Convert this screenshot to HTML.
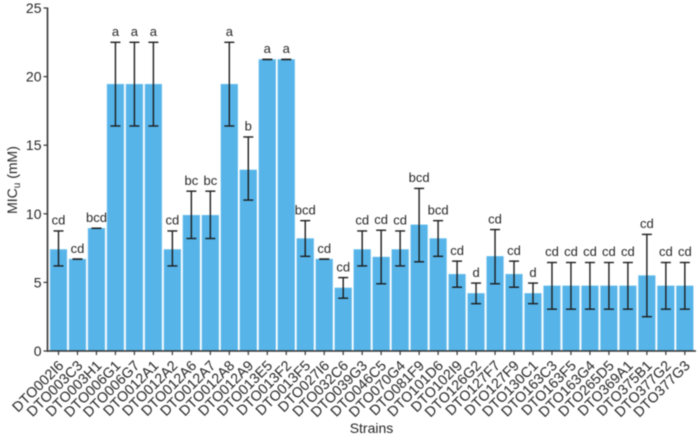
<!DOCTYPE html>
<html>
<head>
<meta charset="utf-8">
<style>
html,body{margin:0;padding:0;background:#fff;width:700px;height:437px;overflow:hidden}
svg{display:block;filter:blur(0.4px)}
text{font-family:"Liberation Sans",Arial,sans-serif;fill:#262626}
</style>
</head>
<body>
<svg id="chart" width="700" height="437" viewBox="0 0 700 437" xmlns="http://www.w3.org/2000/svg"></svg>
<script>
const categories = ["DTO002I6","DTO003C3","DTO003H1","DTO006G1","DTO006G7","DTO012A1","DTO012A2","DTO012A6","DTO012A7","DTO012A8","DTO012A9","DTO013E5","DTO013F2","DTO013F5","DTO027I6","DTO032C6","DTO039G3","DTO046C5","DTO070G4","DTO081F9","DTO101D6","DTO102I9","DTO126G2","DTO127F7","DTO127F9","DTO130C1","DTO163C3","DTO163F5","DTO163G4","DTO265D5","DTO369A1","DTO375B1","DTO377G2","DTO377G3"];
const meanValues = [7.4,6.7,8.95,19.45,19.45,19.45,7.4,9.9,9.9,19.45,13.2,21.25,21.25,8.2,6.7,4.6,7.4,6.85,7.4,9.2,8.2,5.6,4.2,6.9,5.6,4.2,4.75,4.75,4.75,4.75,4.75,5.5,4.75,4.75];
const errorLow = [6.2,6.7,8.95,16.4,16.4,16.4,6.2,8.2,8.2,16.4,11,21.25,21.25,6.9,6.7,3.85,6.2,4.9,6.2,6.5,6.9,4.65,3.45,4.9,4.65,3.45,3.05,3.05,3.05,3.05,3.05,2.5,3.05,3.05];
const errorHigh = [8.75,6.7,8.95,22.5,22.5,22.5,8.75,11.65,11.65,22.5,15.6,21.25,21.25,9.5,6.7,5.35,8.75,8.8,8.75,11.85,9.5,6.55,4.95,8.85,6.55,4.95,6.45,6.45,6.45,6.45,6.45,8.5,6.45,6.45];
const groupLetters = ["cd","cd","bcd","a","a","a","cd","bc","bc","a","b","a","a","bcd","cd","cd","cd","cd","cd","bcd","bcd","cd","d","cd","cd","d","cd","cd","cd","cd","cd","cd","cd","cd"];
const yTicks = [0,5,10,15,20,25];

const NS = "http://www.w3.org/2000/svg";
const svg = document.getElementById("chart");
const yScale = v => 351 - v * 13.72;
const xScale = i => 58.5 + i * 18.98;
function mk(tag, attrs, parent, txt){
  const e = document.createElementNS(NS, tag);
  for (const k in attrs) e.setAttribute(k, attrs[k]);
  if (txt !== undefined) e.textContent = txt;
  (parent || svg).appendChild(e);
  return e;
}

categories.forEach((c, i) => {
  const h = yScale(0) - yScale(meanValues[i]);
  const bar = mk("rect", {x: xScale(i) - 8.4, y: yScale(meanValues[i]), width: 16.8, height: h, fill: "#56B4E9", stroke: "#7cc6ee", "stroke-width": 0.5});
  
  
});

categories.forEach((c, i) => {
  const x = xScale(i), yl = yScale(errorLow[i]), yh = yScale(errorHigh[i]);
  const g = mk("g", {stroke: "#1c1c1c", "stroke-width": 1.4, fill: "none"});
  
  
  mk("line", {x1: x, x2: x, y1: yl, y2: yh}, g);
  mk("line", {x1: x - 5, x2: x + 5, y1: yl, y2: yl}, g);
  mk("line", {x1: x - 5, x2: x + 5, y1: yh, y2: yh}, g);
  const t = mk("text", {x: x, y: yh - 6.3, "text-anchor": "middle", "font-size": 13}, svg, groupLetters[i]);
  
  
});

const yAxis = mk("line", {x1: 47.5, x2: 47.5, y1: yScale(25) - 0.5, y2: yScale(0) + 0.7, stroke: "#333", "stroke-width": 1.6});


const xAxis = mk("line", {x1: 47, x2: 696, y1: yScale(0), y2: yScale(0), stroke: "#333", "stroke-width": 1.6});



yTicks.forEach(v => {
  const y = yScale(v);
  const tk = mk("line", {x1: 43.5, x2: 47.5, y1: y, y2: y, stroke: "#333", "stroke-width": 1.2});
  
  
  const t = mk("text", {x: 41.5, y: y + 5, "text-anchor": "end", "font-size": 14}, svg, String(v));
  
  
});

categories.forEach((c, i) => {
  const x = xScale(i);
  const tk = mk("line", {x1: x, x2: x, y1: 351, y2: 355, stroke: "#333", "stroke-width": 1.2});
  
  
  const t = mk("text", {x: x + 6, y: 366.5, "text-anchor": "end", "font-size": 14.3, transform: "rotate(-45 " + (x + 6) + " 366.5)"}, svg, c);
  
  
});

const xTitle = mk("text", {x: 371.5, y: 433, "text-anchor": "middle", "font-size": 14}, svg, "Strains");



const yTitle = mk("text", {x: 17, y: 180, "text-anchor": "middle", "font-size": 14, transform: "rotate(-90 17 180)"});


yTitle.appendChild(document.createTextNode("MIC"));
mk("tspan", {"font-size": 10, dy: 3}, yTitle, "u");
mk("tspan", {dy: -3}, yTitle, " (mM)");
</script>
</body>
</html>
